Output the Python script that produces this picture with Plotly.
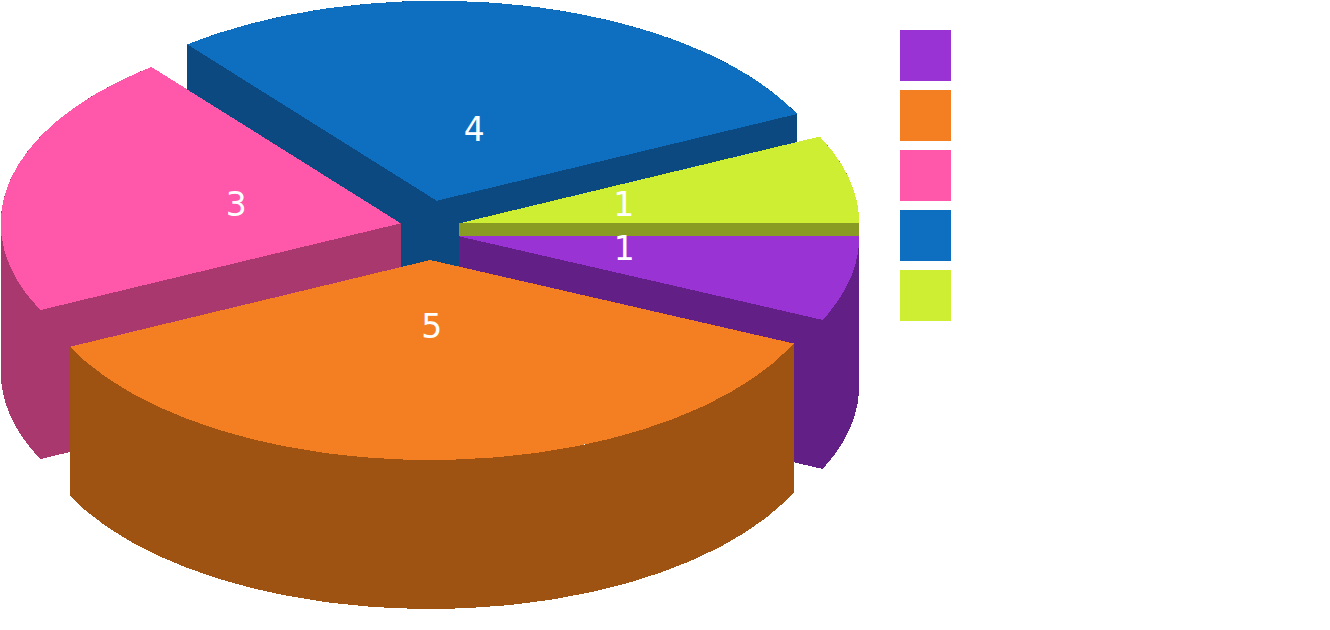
import numpy as np
import plotly.graph_objects as go

# slice sizes (labels are rounded)
slice_values = [0.96, 5.04, 3, 4, 1]
slice_labels = ["1", "5", "3", "4", "1"]
top_colors = ["#9933d3", "#f47f23", "#ff57a9", "#0e6fc1", "#cdee33"]
side_colors = ["#622086", "#9f5313", "#a9386f", "#0b4980", "#8a9b24"]

# back to front, so nearer slices cover the ones behind
draw_order = [3, 2, 4, 0, 1]

cx, cy = 430, 230
rx, ry = 400, 200
depth = 149
explode = 30


def add_face(fig, xs, ys, color):
    fig.add_trace(go.Scatter(
        x=list(xs), y=list(ys), mode="lines", fill="toself", fillcolor=color,
        line=dict(width=0, color=color), hoverinfo="skip",
    ))


def add_band(fig, xs, ys, color):
    # closed band between an edge and the same edge moved down by depth
    x = list(xs) + list(xs[::-1]) + [xs[0]]
    y = list(ys) + [v + depth for v in ys[::-1]] + [ys[0]]
    add_face(fig, x, y, color)


angles = np.cumsum([0] + slice_values) / sum(slice_values) * 2 * np.pi

fig = go.Figure()

for i in draw_order:
    start, end = angles[i], angles[i + 1]
    mid = (start + end) / 2
    ax = cx + explode * np.cos(mid)
    ay = cy + explode * np.sin(mid)
    t = np.linspace(start, end, 120)
    xs = ax + rx * np.cos(t)
    ys = ay + ry * np.sin(t)

    # the two cut faces
    add_band(fig, [ax, xs[0]], [ay, ys[0]], side_colors[i])
    add_band(fig, [ax, xs[-1]], [ay, ys[-1]], side_colors[i])

    # outer wall, split at the far left so each band stays a simple polygon
    if start < np.pi < end:
        left = t < np.pi
        add_band(fig, xs[left], ys[left], side_colors[i])
        add_band(fig, xs[~left], ys[~left], side_colors[i])
        first, second = np.where(left)[0][-1], np.where(~left)[0][0]
        add_band(fig, xs[first:second + 1], ys[first:second + 1], side_colors[i])
    else:
        add_band(fig, xs, ys, side_colors[i])

    # top face
    add_face(fig, [ax] + list(xs) + [ax], [ay] + list(ys) + [ay], top_colors[i])

# labels go on top of every slice
for i in draw_order:
    mid = (angles[i] + angles[i + 1]) / 2
    ax = cx + explode * np.cos(mid)
    ay = cy + explode * np.sin(mid)
    fig.add_trace(go.Scatter(
        x=[ax + rx * 0.422 * np.cos(mid)], y=[ay + ry * 0.35 * np.sin(mid)],
        mode="text", text=[slice_labels[i]], textposition="middle center",
        textfont=dict(family="DejaVu Sans", size=33, color="white"),
        hoverinfo="skip",
    ))

# legend swatches
fig.add_trace(go.Scatter(
    x=[925.5] * len(top_colors), y=[55.5 + 60 * i for i in range(len(top_colors))],
    mode="markers",
    marker=dict(symbol="square", size=51, color=top_colors, line=dict(width=0)),
    hoverinfo="skip",
))

fig.update_layout(
    width=1330, height=630,
    margin=dict(l=0, r=0, t=0, b=0),
    paper_bgcolor="white", plot_bgcolor="white",
    showlegend=False,
    xaxis=dict(range=[0, 1330], visible=False),
    yaxis=dict(range=[630, 0], visible=False),
)

# the reference has hard, aliased edges and no seams between faces
post_script = """
document.body.style.margin = '0';
document.querySelectorAll('.scatterlayer path').forEach(function (p) {
    p.style.shapeRendering = 'crispEdges';
});
"""
fig.write_html("out.html", config=dict(displayModeBar=False), post_script=post_script)
